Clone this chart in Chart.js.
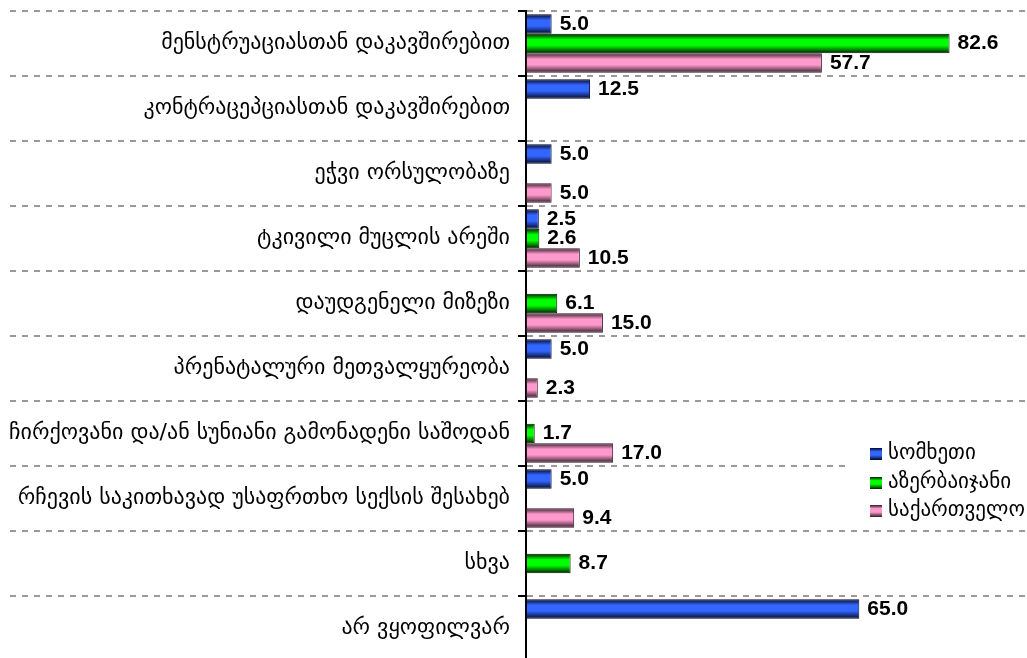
<!DOCTYPE html>
<html>
<head>
<meta charset="utf-8">
<script src="https://cdn.jsdelivr.net/npm/chart.js@4/dist/chart.umd.min.js"></script>
<style>
  html, body { margin: 0; padding: 0; background: #fff; overflow: hidden; }
  #wrap { width: 1027px; height: 661px; position: relative; }
</style>
</head>
<body>
<div id="wrap"><canvas id="grafico"></canvas></div>
<script>
const categorias = [
    "მენსტრუაციასთან დაკავშირებით",
    "კონტრაცეპციასთან დაკავშირებით",
    "ეჭვი ორსულობაზე",
    "ტკივილი მუცლის არეში",
    "დაუდგენელი მიზეზი",
    "პრენატალური მეთვალყურეობა",
    "ჩირქოვანი და/ან სუნიანი გამონადენი საშოდან",
    "რჩევის საკითხავად უსაფრთხო სექსის შესახებ",
    "სხვა",
    "არ ვყოფილვარ"
];
const seriesNames = ["სომხეთი", "აზერბაიჯანი", "საქართველო"];
const somkheti = [5.0, 12.5, 5.0, 2.5, null, 5.0, null, 5.0, null, 65.0];
const azerbaijani = [82.6, null, null, 2.6, 6.1, null, 1.7, null, 8.7, null];
const sakartvelo = [57.7, null, 5.0, 10.5, 15.0, 2.3, 17.0, 9.4, null, null];

// [borda escura, centro claro]
const cores = [
    ["#000520", "#3366ff"],
    ["#001a00", "#00ff00"],
    ["#2e1824", "#ff99cc"]
];

function gradiente(c, y0, h, par) {
    const g = c.createLinearGradient(0, y0, 0, y0 + h);
    g.addColorStop(0, par[0]);
    g.addColorStop(0.3, par[1]);
    g.addColorStop(0.6, par[1]);
    g.addColorStop(1, par[0]);
    return g;
}

function corBarra(ctx) {
    const chart = ctx.chart;
    const y = chart.scales && chart.scales.y;
    const par = cores[ctx.datasetIndex];
    if (!y || !chart.chartArea || ctx.dataIndex === undefined) return par[1];
    const banda = y.getPixelForValue(1) - y.getPixelForValue(0);
    const h = banda * 0.9 / 3;
    const centro = y.getPixelForValue(ctx.dataIndex) + (ctx.datasetIndex - 1) * h;
    return gradiente(chart.ctx, centro - h / 2, h, par);
}

const rotulos = {
    id: "rotulos",
    afterDatasetsDraw(chart) {
        const c = chart.ctx;
        c.save();
        c.font = "bold 21px 'Liberation Sans', Arial, sans-serif";
        c.fillStyle = "#000";
        c.textBaseline = "middle";
        c.textAlign = "left";
        chart.data.datasets.forEach((ds, di) => {
            chart.getDatasetMeta(di).data.forEach((bar, i) => {
                const v = ds.data[i];
                if (v === null || v === undefined) return;
                c.fillText(v.toFixed(1), bar.x + 8, bar.y);
            });
        });
        c.restore();
    }
};

const linhasEsquerda = {
    id: "linhasEsquerda",
    beforeDatasetsDraw(chart) {
        const y = chart.scales.y;
        const c = chart.ctx;
        const banda = y.getPixelForValue(1) - y.getPixelForValue(0);
        c.save();
        c.strokeStyle = "#999";
        c.lineWidth = 2;
        c.setLineDash([6, 6]);
        for (let i = 0; i <= categorias.length; i++) {
            const yy = Math.round(y.getPixelForValue(0) - banda / 2 + i * banda);
            c.beginPath();
            c.moveTo(10, yy);
            c.lineTo(y.right - 12, yy);
            c.stroke();
        }
        c.restore();
    }
};

const legenda = {
    id: "legenda",
    afterDraw(chart) {
        const c = chart.ctx;
        c.save();
        c.fillStyle = "#fff";
        c.fillRect(848, 436, 179, 88);
        c.font = "21px 'DejaVu Sans', sans-serif";
        c.textBaseline = "middle";
        c.textAlign = "left";
        const ys = [454, 483, 511];
        seriesNames.forEach((nome, i) => {
            c.fillStyle = gradiente(c, ys[i] - 6, 12, cores[i]);
            c.fillRect(870, ys[i] - 6, 12, 12);
            c.fillStyle = "#000";
            c.fillText(nome, 888, ys[i]);
        });
        c.restore();
    }
};

const ctx = document.getElementById("grafico").getContext("2d");
new Chart(ctx, {
    type: "bar",
    data: {
        labels: categorias,
        datasets: [somkheti, azerbaijani, sakartvelo].map((d, i) => ({
            label: seriesNames[i],
            data: d,
            backgroundColor: corBarra,
            borderColor: cores[i][0],
            borderWidth: 1,
            borderSkipped: false,
            categoryPercentage: 0.9,
            barPercentage: 1
        }))
    },
    options: {
        indexAxis: "y",
        responsive: true,
        maintainAspectRatio: false,
        animation: false,
        layout: { padding: { top: 11, right: 0, bottom: 0, left: 0 } },
        plugins: {
            legend: { display: false },
            tooltip: { enabled: false }
        },
        scales: {
            x: {
                display: false,
                min: 0,
                max: 97.7
            },
            y: {
                offset: true,
                grid: {
                    offset: true,
                    color: "#999",
                    lineWidth: 2,
                    tickColor: "#000",
                    tickWidth: 2,
                    tickLength: 8
                },
                border: { color: "#000", width: 2, dash: [6, 6] },
                ticks: {
                    color: "#000",
                    autoSkip: false,
                    padding: 8,
                    font: { family: "'DejaVu Sans', sans-serif", size: 22 }
                },
                afterFit(s) {
                    s.width = 526;
                    s.paddingTop = 0;
                    s.paddingBottom = 0;
                }
            }
        }
    },
    plugins: [linhasEsquerda, rotulos, legenda]
});
</script>
</body>
</html>
